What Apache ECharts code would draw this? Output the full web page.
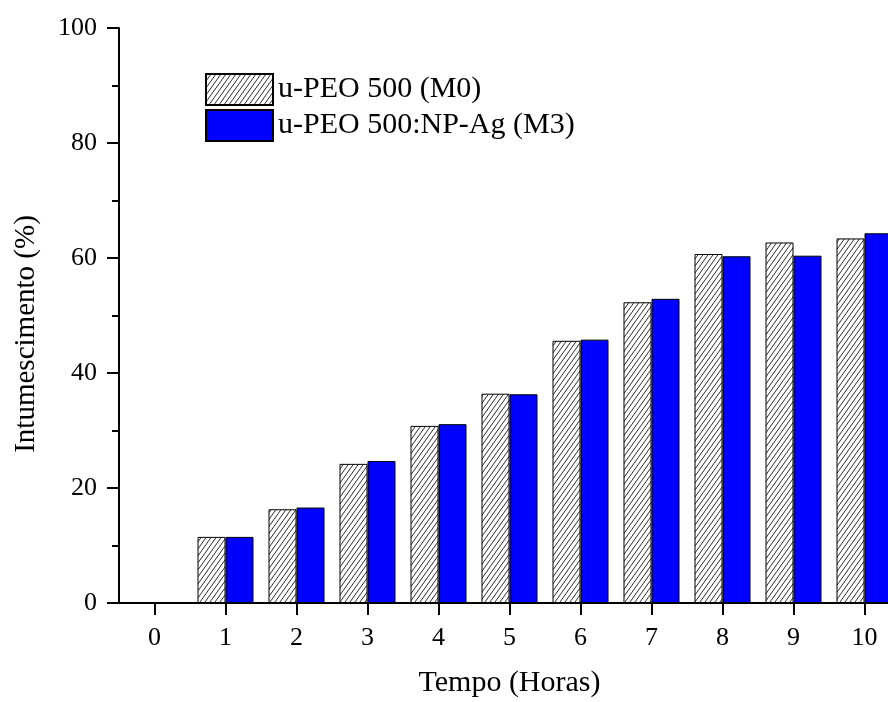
<!DOCTYPE html>
<html>
<head>
<meta charset="utf-8">
<script src="https://cdn.jsdelivr.net/npm/echarts@6/dist/echarts.min.js"></script>
<style>
html,body{margin:0;padding:0;background:#fff;}
#chart{width:888px;height:702px;}
</style>
</head>
<body>
<div id="chart"></div>
<script>
// ---- data ----
const categories = ['0','1','2','3','4','5','6','7','8','9','10'];
const seriesNames = ['u-PEO 500 (M0)', 'u-PEO 500:NP-Ag (M3)'];
const valuesM0 = [0, 11.5, 16.3, 24.2, 30.8, 36.4, 45.6, 52.3, 60.7, 62.7, 63.4];
const valuesM3 = [0, 11.5, 16.6, 24.7, 31.1, 36.3, 45.8, 52.9, 60.3, 60.4, 64.3];
const yTicks = [0, 20, 40, 60, 80, 100];
const xAxisName = 'Tempo (Horas)';
const yAxisName = 'Intumescimento (%)';

// hatch pattern
function makeHatch(){
  const w = 5, h = 7;
  const c = document.createElement('canvas');
  c.width = w; c.height = h;
  const ctx = c.getContext('2d');
  ctx.fillStyle = '#ffffff';
  ctx.fillRect(0,0,w,h);
  ctx.strokeStyle = '#2e2e2e';
  ctx.lineWidth = 1;
  ctx.beginPath();
  for (let k = -1; k <= 1; k++) {
    ctx.moveTo(k*w, h);
    ctx.lineTo(k*w + w, 0);
  }
  ctx.stroke();
  return c;
}
const hatch = makeHatch();

const font = '"Liberation Serif", "Times New Roman", serif';
const chart = echarts.init(document.getElementById('chart'), null, {renderer:'canvas'});
chart.setOption({
  backgroundColor: '#ffffff',
  animation: false,
  textStyle: { fontFamily: font, color: '#000' },
  grid: { left: 119, width: 781, top: 28, bottom: 99, containLabel: false, outerBoundsMode: 'none' },
  legend: {
    orient: 'vertical',
    left: 205, top: 73,
    padding: 0,
    itemWidth: 67, itemHeight: 31, itemGap: 3,
    icon: 'rect',
    data: seriesNames,
    textStyle: { fontFamily: font, fontSize: 30, color: '#000' }
  },
  xAxis: {
    type: 'category',
    data: categories,
    name: xAxisName,
    nameLocation: 'middle',
    nameGap: 65,
    nameTextStyle: { fontFamily: font, fontSize: 30, color: '#000' },
    axisLine: { lineStyle: { color: '#000', width: 2 } },
    axisTick: { show: true, alignWithLabel: true, length: 12, lineStyle: { color: '#000', width: 2 } },
    axisLabel: { fontFamily: font, fontSize: 26, color: '#000', margin: 22 },
    splitLine: { show: false }
  },
  yAxis: {
    type: 'value',
    min: yTicks[0], max: yTicks[yTicks.length-1], interval: 20,
    name: yAxisName,
    nameLocation: 'middle',
    nameGap: 78,
    nameRotate: 90,
    nameTextStyle: { fontFamily: font, fontSize: 29, color: '#000', padding: [0, 37, 0, 0] },
    axisLine: { show: true, lineStyle: { color: '#000', width: 2 } },
    axisTick: { show: true, length: 12, lineStyle: { color: '#000', width: 2 } },
    minorTick: { show: true, splitNumber: 2, length: 7, lineStyle: { color: '#000', width: 2 } },
    axisLabel: { fontFamily: font, fontSize: 26, color: '#000', margin: 22 },
    splitLine: { show: false },
    minorSplitLine: { show: false }
  },
  series: [
    {
      name: seriesNames[0], type: 'bar', data: valuesM0,
      barWidth: 28, barGap: '0%',
      itemStyle: { color: { image: hatch, repeat: 'repeat' }, borderColor: '#000', borderWidth: 1 }
    },
    {
      name: seriesNames[1], type: 'bar', data: valuesM3,
      barWidth: 28, barGap: '0%',
      itemStyle: { color: '#0000ff', borderColor: '#000', borderWidth: 1 }
    }
  ]
});
</script>
</body>
</html>
